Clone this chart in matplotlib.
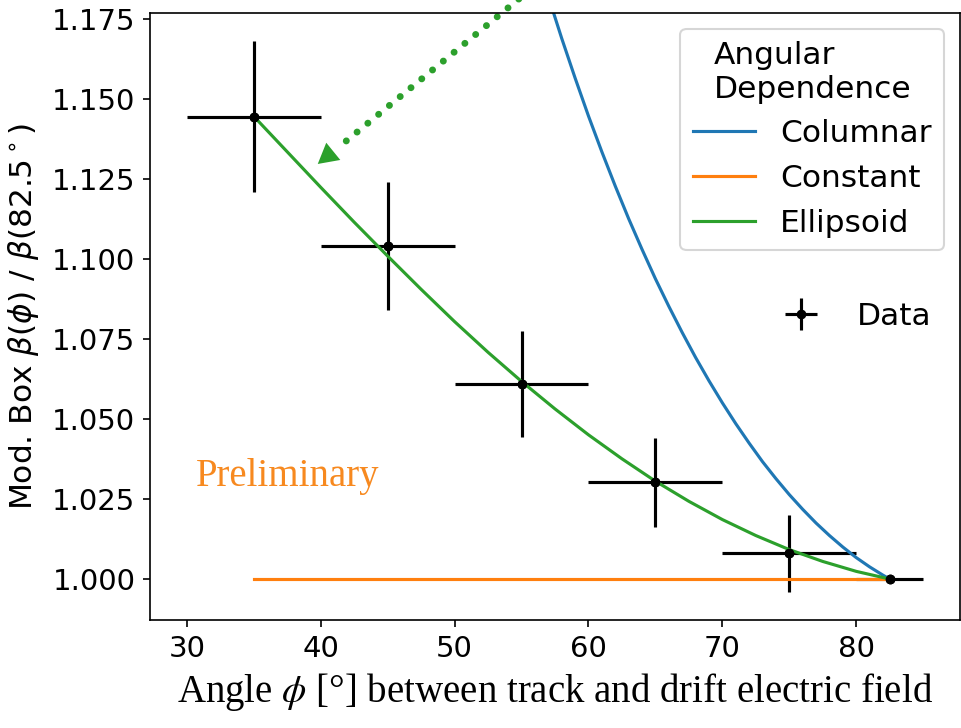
import numpy as np
import matplotlib
matplotlib.use("Agg")
import matplotlib.pyplot as plt

# measured points (angle, ratio) with errors
angle = [35, 45, 55, 65, 75, 82.5]
ratio = [1.1446, 1.1042, 1.0610, 1.0302, 1.0080, 1.0000]
angle_err = [5, 5, 5, 5, 5, 2.5]
ratio_err = [0.0235, 0.0200, 0.0165, 0.0140, 0.0120, 0.0]

# model curves
phi_col = [35, 40, 45, 50, 55, 56, 57, 58, 59, 60, 61, 62, 63, 64, 65, 66,
           67, 68, 69, 70, 71, 72, 73, 74, 75, 76, 77, 78, 79, 80, 81, 82, 82.5]
columnar = [1.7285, 1.5424, 1.4021, 1.2942, 1.2103, 1.1959, 1.1822, 1.1691,
            1.1567, 1.1448, 1.1336, 1.1229, 1.1127, 1.1031, 1.0939, 1.0853,
            1.0771, 1.0693, 1.0620, 1.0551, 1.0486, 1.0425, 1.0367, 1.0314,
            1.0264, 1.0218, 1.0175, 1.0136, 1.0100, 1.0067, 1.0038, 1.0012,
            1.0000]
phi_ell = [35, 37.5, 40, 42.5, 45, 47.5, 50, 52.5, 55, 57.5, 60,
           62.5, 65, 67.5, 70, 72.5, 75, 77.5, 80, 82.5]
ellipsoid = [1.1447, 1.1336, 1.1225, 1.1116, 1.1010, 1.0906, 1.0805, 1.0709,
             1.0618, 1.0532, 1.0451, 1.0376, 1.0306, 1.0243, 1.0186, 1.0136,
             1.0092, 1.0055, 1.0024, 1.0000]
const_x = [35, 82.5]
const_y = [1.0, 1.0]

# arrow annotation
arrow_start = (60.2, 1.2)
arrow_dots_end = (41.3, 1.1349)
arrow_base = (40.94, 1.13375)
arrow_tip = (39.78, 1.1298)

fig = plt.figure(figsize=(9.61, 7.28), dpi=100)
ax = fig.add_axes([150/961, 1-620/728, 810/961, 607/728])

ax.errorbar(angle, ratio, xerr=angle_err, yerr=ratio_err, fmt='ko', ms=6,
            elinewidth=2.25, zorder=1.5, label='Data')
l1, = ax.plot(phi_col, columnar, color='C0', lw=2.25, label='Columnar')
l2, = ax.plot(const_x, const_y, color='C1', lw=2.25, label='Constant')
l3, = ax.plot(phi_ell, ellipsoid, color='C2', lw=2.25, label='Ellipsoid')
ax.plot(angle, ratio, 'ko', ms=6, zorder=3)

ax.set_xlim(27.25, 87.75)
ax.set_ylim(0.98719, 1.17701)
ax.set_yticks([1.0, 1.025, 1.05, 1.075, 1.1, 1.125, 1.15, 1.175])
ax.tick_params(labelsize=21, length=5.25, width=1.2, pad=5.25)
for s in ax.spines.values():
    s.set_linewidth(1.2)

ax.set_ylabel(r'Mod. Box $\beta(\phi)$ / $\beta(82.5^\circ)$', fontsize=22.5,
              labelpad=8)
ax.set_xlabel(r'Angle $\phi$ [°] between track and drift electric field',
              fontsize=28, family='Liberation Serif', math_fontfamily='stix',
              labelpad=6)

ax.text(30.64, 1.0292, 'Preliminary', color='#f7891f', fontsize=28,
        family='Liberation Serif', va='baseline')

# dotted green arrow
ax.plot([arrow_start[0], arrow_dots_end[0]], [arrow_start[1], arrow_dots_end[1]],
        color='C2', lw=5, linestyle=(0, (0.01, 2.0)), dash_capstyle='round',
        clip_on=False)
ax.annotate('', xy=arrow_tip, xytext=arrow_base,
            arrowprops=dict(arrowstyle='-|>,head_length=0.72,head_width=0.4',
                            color='C2', lw=0, shrinkA=0, shrinkB=0,
                            mutation_scale=20))

leg1 = ax.legend(handles=[l1, l2, l3], title='Angular\nDependence',
                 loc='upper right', fontsize=22.5, title_fontsize=22.5)
leg1.get_frame().set_linewidth(1.5)
ax.add_artist(leg1)
h, lab = ax.get_legend_handles_labels()
ax.legend([h[-1]], ['Data'], loc='center right', frameon=False, fontsize=22.5)

fig.savefig('out.png', dpi=100)
